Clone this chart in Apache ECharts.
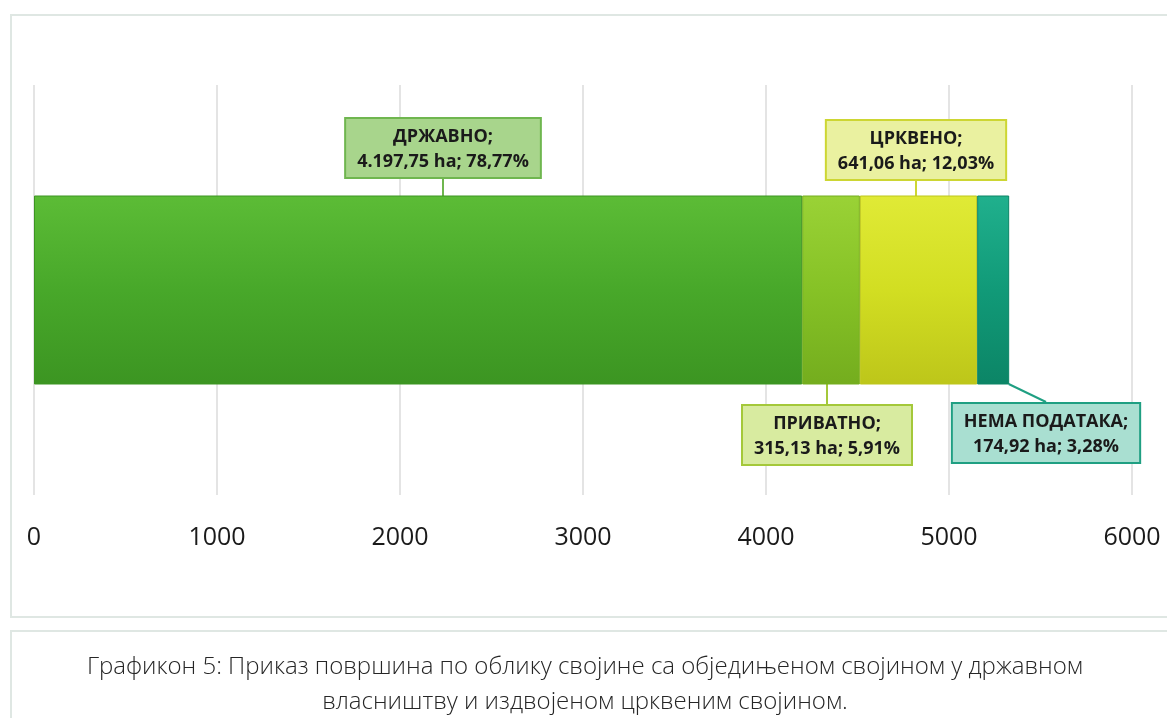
<!doctype html>
<html>
<head>
<meta charset="utf-8">
<title>Графикон 5</title>
<script src="https://cdn.jsdelivr.net/npm/echarts@6/dist/echarts.min.js"></script>
<style>
  body { margin: 0; background: #fff; }
  .frame { position: absolute; border: 2px solid #dfe7e3; box-sizing: border-box; }
  #main { position: absolute; left: 0; top: 0; width: 1167px; height: 718px; }
</style>
</head>
<body>
<div class="frame" style="left:10px;top:14px;width:1170px;height:604px;"></div>
<div class="frame" style="left:10px;top:630px;width:1170px;height:100px;"></div>
<div id="main"></div>
<script>
// подаци
var names = ['ДРЖАВНО', 'ПРИВАТНО', 'ЦРКВЕНО', 'НЕМА ПОДАТАКА'];
var areas = [4197.75, 315.13, 641.06, 174.92];
var areaText = ['4.197,75', '315,13', '641,06', '174,92'];
var shares = ['78,77%', '5,91%', '12,03%', '3,28%'];
var xTicks = [0, 1000, 2000, 3000, 4000, 5000, 6000];

var barColors = [
  ['#5cbc36', '#48a82a', '#3c9522'],
  ['#9ad236', '#86c226', '#74ad1e'],
  ['#e0ea36', '#d2de22', '#bdc61a'],
  ['#20b08d', '#119a78', '#0c8566']
];
var boxStyle = [
  { bg: '#a8d58c', border: '#6fb64f', line: '#6fb64f', x: 443, y: 148 },
  { bg: '#d8eba0', border: '#a4c83a', line: '#a4c83a', x: 827, y: 435 },
  { bg: '#eaf1a0', border: '#cdd633', line: '#cdd633', x: 916, y: 150 },
  { bg: '#a9dfd1', border: '#1f9f82', line: '#1f9f82', x: 1046, y: 433 }
];

var myChart = echarts.init(document.getElementById('main'));

var series = names.map(function (n, i) {
  var b = boxStyle[i];
  return {
    name: n,
    type: 'bar',
    stack: 'total',
    barWidth: 189,
    data: [areas[i]],
    itemStyle: {
      color: new echarts.graphic.LinearGradient(0, 0, 0, 1, [
        { offset: 0, color: barColors[i][0] },
        { offset: 0.5, color: barColors[i][1] },
        { offset: 1, color: barColors[i][2] }
      ]),
      borderColor: barColors[i][2],
      borderWidth: 1
    },
    label: {
      show: true,
      formatter: '{a|' + n + ';}\n{a|' + areaText[i] + ' ha; ' + shares[i] + '}',
      backgroundColor: b.bg,
      borderColor: b.border,
      borderWidth: 2,
      padding: [5, 11, 3, 11],
      rich: {
        a: { fontFamily: 'Open Sans', fontWeight: 'bold', fontSize: 18, lineHeight: 25, color: '#1a1a1a', align: 'center' }
      }
    },
    labelLayout: { x: b.x, y: b.y, align: 'center', verticalAlign: 'middle' },
    labelLine: { show: true, lineStyle: { color: b.line, width: 2 } }
  };
});

option = {
  animation: false,
  grid: { left: 34, right: 35, top: 85, bottom: 223 },
  xAxis: {
    type: 'value',
    min: xTicks[0],
    max: xTicks[xTicks.length - 1],
    interval: 1000,
    axisLine: { show: false },
    axisTick: { show: false },
    splitLine: { lineStyle: { color: '#e4e4e4', width: 2 } },
    axisLabel: {
      fontFamily: 'Open Sans', fontSize: 25, color: '#1a1a1a', margin: 30,
      formatter: function (v) { return String(v); }
    }
  },
  yAxis: {
    type: 'category',
    data: [''],
    axisLine: { show: false },
    axisTick: { show: false },
    axisLabel: { show: false }
  },
  title: {
    text: 'Графикон 5: Приказ површина по облику својине са обједињеном својином у државном\nвласништву и издвојеном црквеним својином.',
    left: 580,
    textAlign: 'center',
    top: 645,
    textStyle: { fontFamily: 'Open Sans', fontWeight: 300, fontSize: 24, lineHeight: 35, color: '#262626' }
  },
  series: series
};

myChart.setOption(option);
</script>
</body>
</html>
